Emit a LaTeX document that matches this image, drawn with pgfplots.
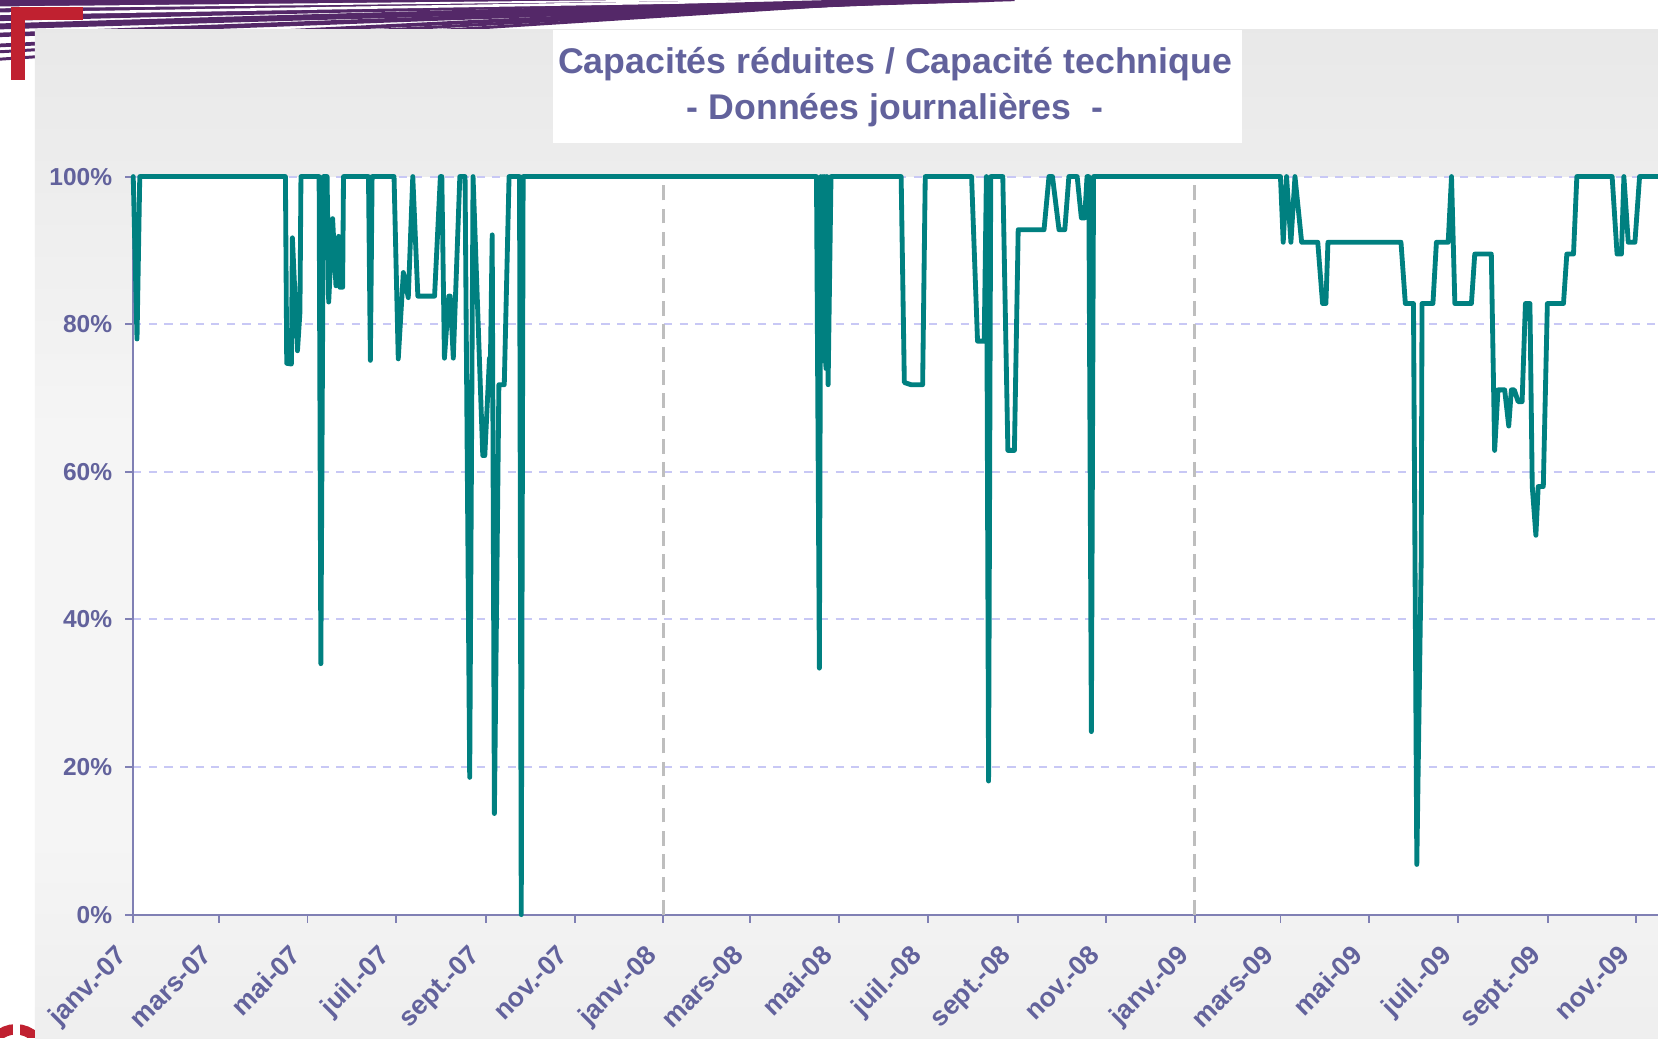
\documentclass[border=0pt]{standalone}
\usepackage{fontspec}
\setmainfont{Liberation Sans}
\usepackage{pgfplots}
\pgfplotsset{compat=1.18}
\definecolor{teal1}{RGB}{0,128,128}
\definecolor{labc}{RGB}{98,98,156}
\definecolor{axc}{RGB}{128,128,180}
\definecolor{gridc}{RGB}{200,200,245}
\definecolor{sepc}{RGB}{190,190,190}
\definecolor{purp}{RGB}{84,40,104}
\definecolor{redc}{RGB}{192,33,48}
\definecolor{pa}{RGB}{218,218,218}
\definecolor{pb}{RGB}{230,230,230}
\definecolor{pc}{RGB}{245,245,245}
\definecolor{pd}{RGB}{228,228,228}
\pgfdeclareverticalshading{panel}{100bp}{color(0bp)=(pa); color(12bp)=(pb); color(35bp)=(pc); color(55bp)=(pc); color(82bp)=(pd); color(100bp)=(pa)}
\begin{document}
\begin{tikzpicture}
\path[use as bounding box, fill=white] (0,0) rectangle (15.68cm,9.82cm);
\begin{scope}[x=0.01cm, y=-0.01cm, yshift=9.82cm]
% decorative swoosh
\fill[purp] (0,0) -- (900,0) .. controls (600,6) and (300,12) .. (0,20) -- cycle;
\draw[white, line width=0.5pt] (0,7) .. controls (300,4) and (600,1) .. (760,-1);
\draw[white, line width=0.7pt] (0,13) .. controls (300,8) and (600,3) .. (860,-1);
\draw[purp, line width=1.6pt] (0,25) .. controls (300,16) and (650,6) .. (940,-1);
\draw[purp, line width=1.2pt] (0,33) .. controls (300,22) and (650,8) .. (960,-1);
\draw[purp, line width=1.0pt] (0,43) .. controls (300,28) and (650,10) .. (930,-1);
\draw[purp, line width=0.8pt] (0,49) .. controls (300,32) and (650,12) .. (900,-1);
\draw[purp, line width=0.8pt] (0,56) .. controls (300,36) and (650,14) .. (880,-1);
% red corner bracket
\fill[redc] (10,7) rectangle (79,19);
\fill[redc] (10,7) rectangle (24,76);
\end{scope}
% gray panel
\shade[shading=panel] (0.33cm,0) rectangle (15.68cm,9.54cm);
\begin{scope}[x=0.01cm, y=-0.01cm, yshift=9.82cm]
% title box
\fill[white] (523,28) rectangle (1175,135);
\node[font=\fontsize{9.6}{12}\selectfont\bfseries, text=labc] at (847,61) {Capacités réduites / Capacité technique};
\node[font=\fontsize{9.6}{12}\selectfont\bfseries, text=labc] at (847,104) {- Données journalières~~-};
% bottom-left logo fragment
\begin{scope}
\clip (0,950) rectangle (33,982);
\draw[redc, line width=2.8pt] (15,1000) circle (26);
\fill[white] (12,960) rectangle (19,982);
\end{scope}
\end{scope}
\begin{axis}[
  at={(1.26cm,1.17cm)}, anchor=south west,
  scale only axis, width=14.42cm, height=6.98cm,
  xmin=0, xmax=1050, ymin=0, ymax=100,
  axis x line*=bottom, axis y line*=left,
  axis line style={axc, line width=0.5pt, -},
  clip=false,
  axis background/.style={fill=white},
  tick align=outside, major tick length=0.075cm,
  tick style={axc, line width=0.5pt},
  xtick={0,59,120,181,243,304,365,425,486,547,609,670,731,790,851,912,974,1035},
  xticklabels={janv.-07,mars-07,mai-07,juil.-07,sept.-07,nov.-07,janv.-08,mars-08,mai-08,juil.-08,sept.-08,nov.-08,janv.-09,mars-09,mai-09,juil.-09,sept.-09,nov.-09},
  ytick={0,20,40,60,80,100},
  yticklabels={0\%,20\%,40\%,60\%,80\%,100\%},
  ticklabel style={font=\fontsize{6.6}{8}\selectfont\bfseries, text=labc},
  xticklabel style={font=\fontsize{7.2}{8.5}\selectfont\bfseries, rotate=45, anchor=north east, inner sep=1pt, xshift=-0.224cm, yshift=0.027cm},
  /pgf/number format/assume math mode=true,
  ymajorgrids=true,
  grid style={gridc, dash pattern=on 2.2pt off 2pt, line width=0.5pt},
]
\addplot[sepc, line width=0.7pt, dash pattern=on 4pt off 2.2pt] coordinates {(365,0) (365,100)};
\addplot[sepc, line width=0.7pt, dash pattern=on 4pt off 2.2pt] coordinates {(731,0) (731,100)};
\addplot[teal1, line width=1.3pt, line join=round, line cap=round, mark=none] coordinates {
(0,100) (2.6,78) (4.5,100) (104.8,100) (105.7,74.7) (108.9,74.6) (109.6,91.7) (113.1,76.4) (114.8,81.6) (115.5,100)
(128,100) (129.2,34) (131,100) (133.5,100) (134.6,83) (137.3,94.3) (139.6,85.2) (141.4,91.9) (142.3,85) (144.2,85) (144.8,100)
(162,100) (163.3,75.1) (164.5,100) (179.6,100) (182.5,75.3) (186,87) (189.4,83.6) (192.5,100) (196,83.8) (207.5,83.8) (211.5,100)
(212.5,100) (214.3,75.4) (217.3,83.8) (218.3,83.8) (220.4,75.4) (224.9,100) (228.5,100) (231.7,18.6) (234,100)
(240.7,62.2) (242.1,62.2) (245.3,75.4) (246,75.4) (247.2,92.1) (248.7,13.7) (251.8,71.8) (255.5,71.8) (258.8,100)
(266,100) (267.2,0) (268.5,100)
(470.5,100) (472.5,33.4) (473.5,100) (474.3,75) (475,100) (475.7,78) (476.3,100) (477,74) (477.7,100) (478.5,71.8) (480.5,100)
(528.8,100) (531,72.1) (535.6,71.8) (543.6,71.8) (545.4,100)
(577.3,100) (581.4,77.7) (586,77.7) (587.5,100) (589,18.1) (590.5,100) (598.8,100) (602.3,62.9) (606.8,62.9) (609.4,92.8)
(627.2,92.8) (630.6,100) (633,100) (637.5,92.8) (641.5,92.8) (644.3,100) (650,100) (652.9,94.4) (655.2,94.4) (656.8,100)
(658,100) (659.8,24.8) (661.3,100)
(790,100) (791.9,91.1) (794.2,100) (797.2,91.1) (800,100) (804.6,91.1) (815.7,91.1) (819,82.8) (821.3,82.8) (822.7,91.1)
(873,91.1) (876,82.8) (881.6,82.8) (883.9,6.8) (886.9,47.8) (887.5,82.8) (895,82.8) (897.4,91.1) (905.5,91.1) (907.8,100)
(910.1,82.8) (921.5,82.8) (923.8,89.5) (935.2,89.5) (937.5,62.9) (939.8,71.1) (944.4,71.1) (947.2,66.2) (949,71.1) (951,71.1)
(953.7,69.5) (956.4,69.5) (958.7,82.8) (961.8,82.8) (963.4,58) (965.9,51.4) (967.5,58) (971,58) (973.8,82.8) (984.9,82.8)
(987.2,89.5) (991.8,89.5) (994.1,100) (1018.4,100) (1021.8,89.5) (1024.8,89.5) (1026.5,100) (1029.5,91.1) (1034.1,91.1)
(1037.3,100) (1050,100)
};
\end{axis}
\end{tikzpicture}
\end{document}
